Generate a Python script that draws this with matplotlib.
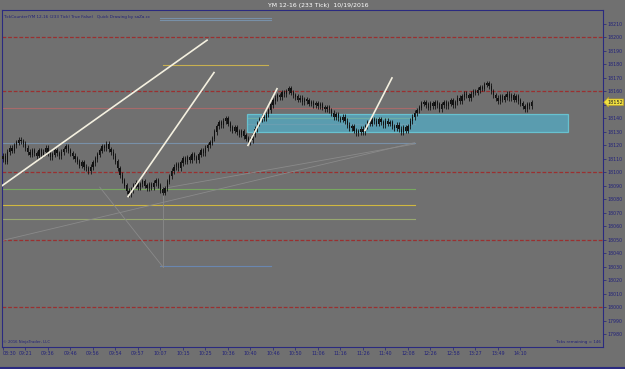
import matplotlib
matplotlib.use('Agg')
import matplotlib.pyplot as plt
import numpy as np

# closes of the 233-tick bars
closes = [18112, 18108, 18115, 18118,
          18116, 18120, 18122, 18124, 18123,
          18121, 18118, 18115, 18113, 18116,
          18114, 18112, 18116, 18113, 18115, 18118, 18114, 18111, 18113, 18116, 18114, 18112,
          18115, 18117, 18119, 18116, 18114,
          18112, 18110, 18108, 18105, 18107, 18104, 18103, 18101,
          18104, 18107, 18110, 18113, 18116, 18119, 18118, 18121,
          18117, 18115, 18112, 18108, 18103, 18098,
          18094, 18090, 18086, 18084, 18087,
          18090, 18092, 18089, 18091, 18093, 18090, 18088, 18091, 18089, 18092, 18094, 18090, 18087,
          18085, 18088, 18093,
          18097, 18101, 18104, 18106, 18103, 18107, 18110,
          18108, 18111, 18109, 18113, 18111, 18109, 18113, 18116, 18114, 18118, 18120, 18122,
          18125, 18130, 18134, 18137, 18135, 18138, 18140,
          18136, 18133, 18131, 18133, 18130, 18128, 18130, 18127, 18125, 18122, 18124,
          18128, 18132, 18136, 18139, 18141, 18140, 18143, 18146,
          18150, 18153, 18155, 18157, 18156, 18159, 18158, 18160, 18162,
          18159, 18157, 18156, 18154, 18155, 18152, 18154, 18153,
          18151, 18152, 18150, 18151, 18149, 18150, 18148, 18147, 18148, 18146, 18144,
          18141, 18143, 18140, 18139, 18141, 18138,
          18135, 18133, 18134, 18131, 18129, 18130, 18132, 18130,
          18134, 18137, 18136, 18139, 18138, 18136, 18139, 18137, 18135, 18138, 18136, 18137, 18134, 18133,
          18135, 18132, 18130, 18133, 18131, 18134,
          18138, 18141, 18144, 18146, 18148, 18151,
          18152, 18150, 18148, 18151, 18149, 18152, 18150, 18147, 18150, 18152, 18149, 18151, 18153, 18150,
          18152, 18155, 18153, 18156, 18158, 18157, 18155, 18158, 18160, 18159,
          18161, 18163, 18162, 18165, 18166, 18164,
          18160, 18157, 18155, 18153, 18156, 18154,
          18156, 18158, 18155, 18157, 18154, 18156, 18153,
          18151, 18149, 18147, 18150, 18149, 18152]

time_labels = ["08:30", "09:21", "09:36", "09:46", "09:56", "09:54", "09:57", "10:07",
               "10:15", "10:25", "10:36", "10:40", "10:46", "10:50", "11:06", "11:16",
               "11:26", "11:40", "12:08", "12:26", "12:58", "13:27", "13:49", "14:10"]

red_levels = [18200, 18160, 18100, 18050, 18000]

# (x0, y0, x1, y1) in bar index / price
white_lines = [(-1.3, 18089, 90.7, 18198),
               (55.6, 18082, 93.8, 18174),
               (108.9, 18120, 121.8, 18162),
               (160.9, 18131, 172.9, 18170)]

# horizontal drawn levels: price, x start, x end, colour
h_levels = [(18147.5, -2, 183, '#a86a6a'),
            (18122, -2, 183, '#7890a8'),
            (18136, 109, 183, '#a87878'),
            (18140.5, 109, 183, '#b8ac50'),
            (18087.5, -2, 183, '#78a860'),
            (18076, -2, 183, '#d0b840'),
            (18065.5, -2, 183, '#98a870'),
            (18179.5, 71, 118, '#c8b050'),
            (18214.5, 70, 119, '#7890a8'),
            (18213, 70, 119, '#7890a8'),
            (18030.5, 70, 119, '#6a86b0')]

box = (108.4, 18130, 251.1, 18143.2)

gray_lines = [(-1.3, 18049, 183, 18122),
              (43, 18089, 71, 18030),
              (71, 18088, 183, 18121),
              (71, 18087, 71, 18030)]

bg = '#707070'
navy = '#22227a'

fig = plt.figure(figsize=(6.25, 3.69), dpi=100)
fig.patch.set_facecolor(bg)
ax = fig.add_axes([2 / 625, 22 / 369, 601 / 625, 337 / 369])
ax.set_facecolor(bg)

x = np.arange(len(closes))
c = np.array(closes, dtype=float)
o = np.concatenate([[c[0] - 2], c[:-1]])
hi = np.maximum(o, c) + 2
lo = np.minimum(o, c) - 2

for lvl in red_levels:
    ax.axhline(lvl, color='#9a3030', lw=0.9, ls=(0, (3, 1.5)), zorder=1)

for p, x0, x1, col in h_levels:
    ax.plot([x0, x1], [p, p], color=col, lw=0.8, zorder=1)

for x0, y0, x1, y1 in gray_lines:
    ax.plot([x0, x1], [y0, y1], color='#8a8a8a', lw=0.6, zorder=1)

bx0, by0, bx1, by1 = box
ax.add_patch(plt.Rectangle((bx0, by0), bx1 - bx0, by1 - by0, facecolor='#52aec8',
                           edgecolor='#6ad8e8', lw=0.9, alpha=0.72, zorder=2))

ax.vlines(x, lo, hi, color='#111111', lw=0.6, zorder=3)
ax.bar(x, np.abs(c - o) + 0.3, bottom=np.minimum(o, c), width=0.6,
       color='#111111', zorder=3)

for x0, y0, x1, y1 in white_lines:
    ax.plot([x0, x1], [y0, y1], color='#f4f0e0', lw=1.2, zorder=4)

ax.set_xlim(-0.44, 266.7)
ax.set_ylim(17970.4, 18220.4)

ax.yaxis.tick_right()
yt = np.arange(17980, 18211, 10)
ax.set_yticks(yt)
ax.set_yticklabels(["" if v == 18150 else str(v) for v in yt])
ax.set_xticks(np.arange(0, 10 * len(time_labels), 10))
ax.set_xticklabels(time_labels)
ax.tick_params(colors=navy, labelsize=3.4, length=2, width=0.5, pad=1)
ax.get_xticklabels()[0].set_horizontalalignment('left')
for s in ax.spines.values():
    s.set_color('#2a2a80')
    s.set_linewidth(0.8)

# last price marker
last = closes[-1]
ax.annotate(str(last), xy=(1.0, last), xycoords=('axes fraction', 'data'),
            xytext=(3, 0), textcoords='offset points', fontsize=3.6, color='#222222',
            va='center', ha='left',
            bbox=dict(boxstyle='larrow,pad=0.15', fc='#f0e040', ec='#c0a020', lw=0.4))

ax.text(0.002, 0.985, "TickCounter(YM 12-16 (233 Tick) True False)   Quick Drawing by saZa.cc",
        transform=ax.transAxes, fontsize=3.0, color=navy, va='top', ha='left')
ax.text(0.002, 0.008, "\u00a9 2016 NinjaTrader, LLC", transform=ax.transAxes,
        fontsize=2.7, color=navy, va='bottom', ha='left')
ax.text(0.997, 0.008, "Ticks remaining = 146", transform=ax.transAxes,
        fontsize=3.0, color=navy, va='bottom', ha='right')

fig.text(318 / 625, 1 - 5 / 369, "YM 12-16 (233 Tick)  10/19/2016", color='white',
         fontsize=4.4, ha='center', va='center')
fig.add_artist(plt.Line2D([0, 1], [1 / 369, 1 / 369], color='#2a2a80', lw=1.5))

fig.savefig('out.png', dpi=100, facecolor=bg)
